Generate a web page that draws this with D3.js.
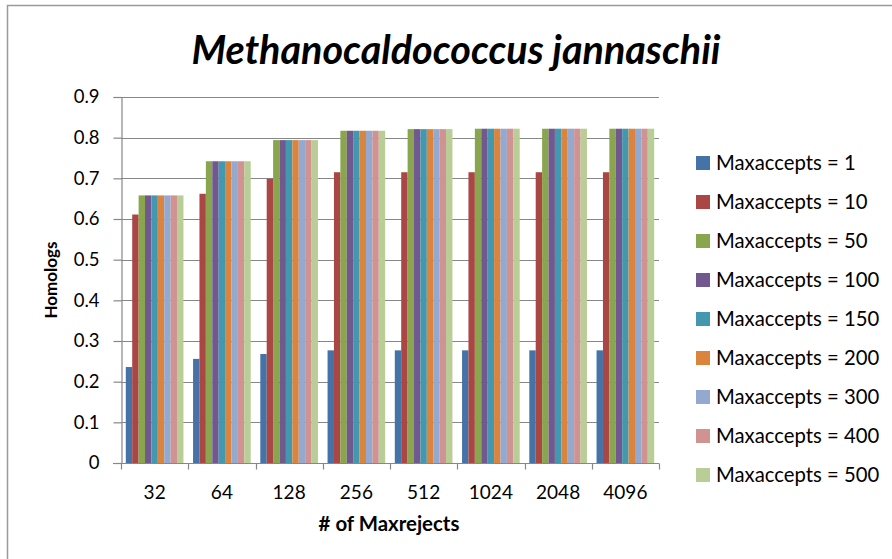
<!DOCTYPE html>
<html>
<head>
<meta charset="utf-8">
<script src="https://cdn.jsdelivr.net/npm/d3@7"></script>
<style>
  html, body { margin: 0; padding: 0; background: #fff; }
  svg { display: block; font-family: Lato, "Open Sans", sans-serif; }
</style>
</head>
<body>
<svg id="chart" width="892" height="559"></svg>
<script>
// Categories: number of max rejects
const maxrejects = ["32", "64", "128", "256", "512", "1024", "2048", "4096"];
// Series names (one per maxaccepts setting)
const seriesNames = ["Maxaccepts = 1", "Maxaccepts = 10", "Maxaccepts = 50", "Maxaccepts = 100",
  "Maxaccepts = 150", "Maxaccepts = 200", "Maxaccepts = 300", "Maxaccepts = 400", "Maxaccepts = 500"];
const seriesColors = ["#4572A7", "#AA4643", "#89A54E", "#71588F", "#4198AF", "#DB843D", "#93A9CF", "#D19392", "#B9CD96"];

// Homolog fraction per series, indexed by category
const acc1   = [0.236, 0.256, 0.268, 0.277, 0.277, 0.277, 0.277, 0.277];
const acc10  = [0.611, 0.662, 0.699, 0.715, 0.715, 0.715, 0.715, 0.715];
const acc50  = [0.658, 0.742, 0.794, 0.817, 0.821, 0.822, 0.822, 0.822];
const acc100 = [0.658, 0.742, 0.794, 0.817, 0.821, 0.822, 0.822, 0.822];
const acc150 = [0.658, 0.742, 0.794, 0.817, 0.821, 0.822, 0.822, 0.822];
const acc200 = [0.658, 0.742, 0.794, 0.817, 0.821, 0.822, 0.822, 0.822];
const acc300 = [0.658, 0.742, 0.794, 0.817, 0.821, 0.822, 0.822, 0.822];
const acc400 = [0.658, 0.742, 0.794, 0.817, 0.821, 0.822, 0.822, 0.822];
const acc500 = [0.658, 0.742, 0.794, 0.817, 0.821, 0.822, 0.822, 0.822];
const seriesValues = [acc1, acc10, acc50, acc100, acc150, acc200, acc300, acc400, acc500];

const yTicks = [0, 0.1, 0.2, 0.3, 0.4, 0.5, 0.6, 0.7, 0.8, 0.9];

const svg = d3.select("#chart");
const W = 892, H = 559;
const plot = { left: 121, right: 659, top: 97, bottom: 463 };
const axisColor = "#878787";

// Chart-area frame
svg.append("rect")
  .attr("x", 7.5).attr("y", 5.5)
  .attr("width", W + 10).attr("height", H + 10)
  .attr("fill", "#fff").attr("stroke", "#9a9a9a").attr("stroke-width", 1.5);

// Title
svg.append("text")
  .attr("x", 456).attr("y", 64)
  .attr("text-anchor", "middle")
  .attr("font-size", 39.5).attr("font-weight", "bold").attr("font-style", "italic")
  .attr("fill", "#000")
  .text("Methanocaldococcus jannaschii");

const x = d3.scaleBand().domain(maxrejects).range([plot.left, plot.right]).padding(0);
const xs = d3.scaleBand().domain(d3.range(seriesNames.length))
  .range([0, x.bandwidth()]).paddingInner(0).paddingOuter(0.75);
const y = d3.scaleLinear().domain([0, 0.9]).range([plot.bottom, plot.top]);

// Horizontal gridlines
svg.append("g").selectAll("line").data(yTicks.slice(1)).join("line")
  .attr("x1", plot.left).attr("x2", plot.right)
  .attr("y1", d => Math.round(y(d)) + 0.5).attr("y2", d => Math.round(y(d)) + 0.5)
  .attr("stroke", axisColor).attr("stroke-width", 1.2);

// Bars
const groups = svg.append("g").selectAll("g").data(seriesValues).join("g")
  .attr("fill", (d, i) => seriesColors[i]);
groups.each(function(vals, si) {
  d3.select(this).selectAll("rect").data(vals).join("rect")
    .attr("x", (v, ci) => x(maxrejects[ci]) + xs(si))
    .attr("width", xs.bandwidth())
    .attr("y", v => y(v))
    .attr("height", v => y(0) - y(v));
});

// Y axis
const yAxis = svg.append("g")
  .attr("transform", `translate(${plot.left + 0.5},0)`)
  .call(d3.axisLeft(y).tickValues(yTicks).tickSize(8).tickPadding(14)
    .tickFormat(d => d === 0 ? "0" : d3.format(".1f")(d)));
yAxis.selectAll("line, path").attr("stroke", axisColor).attr("stroke-width", 1.2);
yAxis.selectAll("text").attr("font-size", 18.5).attr("fill", "#000")
  .attr("font-family", "Lato, 'Open Sans', sans-serif");

// X axis
const xAxis = svg.append("g")
  .attr("transform", `translate(0,${plot.bottom + 0.5})`)
  .call(d3.axisBottom(x).tickSize(0).tickPadding(22));
xAxis.select("path").attr("stroke", axisColor).attr("stroke-width", 1.2)
  .attr("d", `M${plot.left - 8},0H${plot.right}`);
xAxis.selectAll("text").attr("font-size", 19).attr("fill", "#000")
  .attr("font-family", "Lato, 'Open Sans', sans-serif");
// Category boundary ticks
xAxis.append("g").selectAll("line")
  .data(maxrejects.map(c => x(c)).concat([plot.right])).join("line")
  .attr("x1", d => Math.round(d) + 0.5).attr("x2", d => Math.round(d) + 0.5)
  .attr("y1", 0).attr("y2", 6)
  .attr("stroke", axisColor).attr("stroke-width", 1.2);

// Axis titles
svg.append("text")
  .attr("x", 389).attr("y", 531)
  .attr("text-anchor", "middle")
  .attr("font-size", 20.4).attr("font-weight", "bold")
  .text("# of Maxrejects");
svg.append("text")
  .attr("transform", `translate(57,${(plot.top + plot.bottom) / 2}) rotate(-90)`)
  .attr("text-anchor", "middle")
  .attr("font-size", 17).attr("font-weight", "bold")
  .text("Homologs");

// Legend
const legend = svg.append("g").selectAll("g").data(seriesNames).join("g")
  .attr("transform", (d, i) => `translate(696,${163 + i * 39})`);
legend.append("rect")
  .attr("x", 0).attr("y", -7).attr("width", 14).attr("height", 14)
  .attr("fill", (d, i) => seriesColors[i]);
legend.append("text")
  .attr("x", 20).attr("y", 0).attr("dy", "0.36em")
  .attr("font-size", 20.3).attr("fill", "#000")
  .text(d => d);
</script>
</body>
</html>
